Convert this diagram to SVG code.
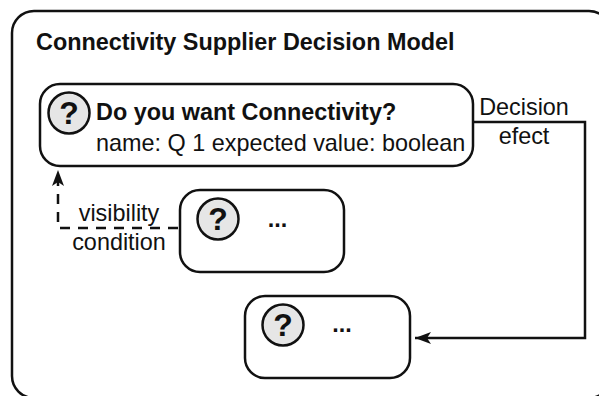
<svg xmlns="http://www.w3.org/2000/svg" width="599" height="396" viewBox="0 0 599 396">
<style>
.box{fill:#fff;stroke:#111;stroke-width:2.500}
.q{fill:#e6e6e6;stroke:#111;stroke-width:2.500}
.t{font-family:"Liberation Sans",Arial,sans-serif;fill:#111;font-size:23.400px}
.b{font-weight:bold}
.m{font-weight:bold;font-size:32px;text-anchor:middle}
.c{text-anchor:middle}
.line{fill:none;stroke:#111;stroke-width:2.500}
</style>
<defs>
<marker id="arrow" markerUnits="userSpaceOnUse" markerWidth="18" markerHeight="14" refX="16" refY="6" orient="auto">
<path d="M0 0L16 6L0 12L4 6Z" fill="#111"/>
</marker>
</defs>
<rect id="frame" class="box" x="12" y="11" width="599" height="387" rx="22"/>
<text class="t b" x="36" y="50">Connectivity Supplier Decision Model</text>
<g id="connectors">
<path class="line" d="M473 122H585V338H415" marker-end="url(#arrow)"/>
<path class="line" stroke-dasharray="10 8" d="M178 228H58V170" marker-end="url(#arrow)"/>
</g>
<g id="q1">
<rect class="box" x="40" y="84" width="433" height="82" rx="20"/>
<circle class="q" cx="69" cy="113" r="20.500"/>
<text class="t m" x="69" y="124">?</text>
<text class="t b" x="96" y="120">Do you want Connectivity?</text>
<text class="t" x="96" y="150.500">name: Q 1 expected value: boolean</text>
</g>
<g id="q2">
<rect class="box" x="180" y="190" width="164" height="82" rx="20"/>
<circle class="q" cx="218" cy="219" r="20.500"/>
<text class="t m" x="218" y="230">?</text>
<text class="t b c" x="277.500" y="227">...</text>
</g>
<g id="q3">
<rect class="box" x="245" y="296" width="165" height="82" rx="20"/>
<circle class="q" cx="283" cy="325" r="20.500"/>
<text class="t m" x="283" y="336">?</text>
<text class="t b c" x="342" y="332">...</text>
</g>
<g id="labels">
<text class="t c" x="524" y="115">Decision</text>
<text class="t c" x="524" y="144">efect</text>
<text class="t c" x="119" y="221">visibility</text>
<text class="t c" x="119" y="250">condition</text>
</g>
</svg>
